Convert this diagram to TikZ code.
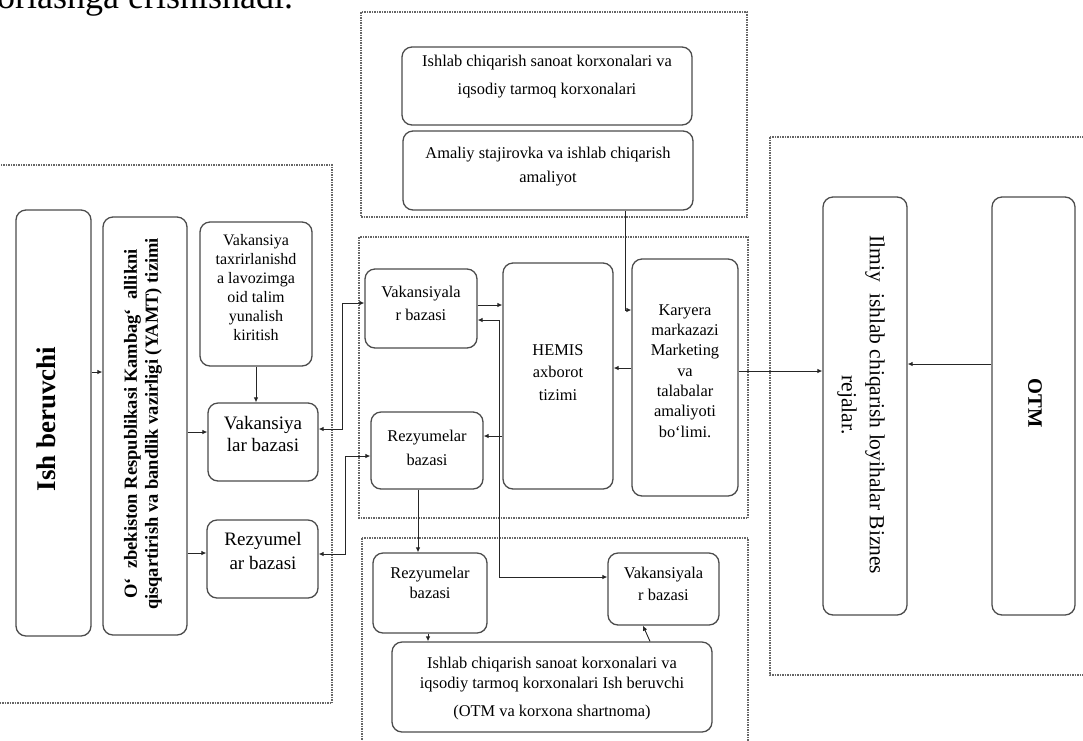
\documentclass[tikz,border=0pt]{standalone}
\usepackage{fontspec}
\setmainfont{Liberation Serif}
\usetikzlibrary{arrows.meta}
\begin{document}
\begin{tikzpicture}[x=1pt,y=-1pt,
  box/.style={draw=black!70, line width=1.3pt, rounded corners=10pt, inner sep=0pt, fill=white},
  region/.style={draw=black!60, line width=1.1pt, dash pattern=on 1.5pt off 1pt},
  txt/.style={inner sep=0pt, align=center, font=\fontsize{16.4}{20}\selectfont},
  conn/.style={line width=0.9pt, draw=black!85},
  arr/.style={conn, -{Latex[length=5pt,width=4.5pt]}},
  arrb/.style={conn, {Latex[length=5pt,width=4.5pt]}-{Latex[length=5pt,width=4.5pt]}}]
\useasboundingbox (0,0) rectangle (1083,740);
\clip (0,0) rectangle (1083,740);
\fill[white] (0,0) rectangle (1083,740);

% cut-off text line at the top
\node[anchor=base west, inner sep=0pt, font=\fontsize{36}{40}\selectfont] (toptext) at (-3,8) {oriashga erishishadi.};

% dashed regions
\draw[region] (-5,165) rectangle (332,703);
\draw[region] (361,12) rectangle (747,217);
\draw[region] (359,237) rectangle (748,518);
\draw[region] (362,538) rectangle (748,760);
\draw[region] (770,137) rectangle (1090,675);

% boxes
\node[box, minimum width=75pt, minimum height=426pt] (ish) at (53.5,423) {};
\node[box, minimum width=84pt, minimum height=418pt] (ozb) at (145,426) {};
\node[box, minimum width=112pt, minimum height=144pt] (vtax) at (256,294) {};
\node[box, minimum width=110pt, minimum height=78pt] (vlb) at (263,442) {};
\node[box, minimum width=111pt, minimum height=78pt] (rlb) at (262.5,559) {};
\node[box, minimum width=290pt, minimum height=78pt] (top1) at (547,86) {};
\node[box, minimum width=290pt, minimum height=79pt] (amal) at (548,170.5) {};
\node[box, minimum width=112pt, minimum height=79pt] (mvak) at (421,308.5) {};
\node[box, minimum width=112pt, minimum height=77pt] (mrez) at (427,450.5) {};
\node[box, minimum width=110pt, minimum height=226pt] (hemis) at (558,376) {};
\node[box, minimum width=106pt, minimum height=237pt] (kar) at (685,377.5) {};
\node[box, minimum width=114pt, minimum height=80pt] (brez) at (430,593) {};
\node[box, minimum width=111pt, minimum height=72pt] (bvak) at (663.5,589) {};
\node[box, minimum width=320pt, minimum height=90pt] (big) at (552,687) {};
\node[box, minimum width=84pt, minimum height=418pt] (ilm) at (865,406) {};
\node[box, minimum width=83pt, minimum height=418pt] (otm) at (1033.5,406) {};

% texts
\node[txt, rotate=90, font=\fontsize{27}{30}\selectfont\bfseries] (ishT) at (46,419) {Ish beruvchi};
\node[txt, rotate=90, font=\fontsize{18.5}{21}\selectfont\bfseries] (ozbT) at (143,424) {O‘\ \ zbekiston Respublikasi Kambag‘\ \ allikni\\qisqartirish va bandlik vazirligi (YAMT) tizimi};
\node[txt, font=\fontsize{16}{19}\selectfont] (vtaxT) at (256,288) {Vakansiya\\taxrirlanishd\\a lavozimga\\oid talim\\yunalish\\kiritish};
\node[txt, font=\fontsize{19}{22}\selectfont] (vlbT) at (263,434) {Vakansiya\\lar bazasi};
\node[txt, font=\fontsize{19}{24}\selectfont] (rlbT) at (263,551) {Rezyumel\\ar bazasi};
\node[txt, font=\fontsize{16.4}{28}\selectfont] (top1T) at (547,77) {Ishlab chiqarish sanoat korxonalari va\\iqsodiy tarmoq korxonalari};
\node[txt, font=\fontsize{16.4}{24}\selectfont] (amalT) at (548,167) {Amaliy stajirovka va ishlab chiqarish\\amaliyot};
\node[txt, font=\fontsize{16.4}{23}\selectfont] (mvakT) at (421,303.5) {Vakansiyala\\r bazasi};
\node[txt, font=\fontsize{16.4}{24}\selectfont] (mrezT) at (427,448) {Rezyumelar\\bazasi};
\node[txt, font=\fontsize{16.4}{22.5}\selectfont] (hemisT) at (558,372.5) {HEMIS\\axborot\\tizimi};
\node[txt, font=\fontsize{16.4}{20.3}\selectfont] (karT) at (685,371) {Karyera\\markazazi\\Marketing\\va\\talabalar\\amaliyoti\\bo‘limi.};
\node[txt, font=\fontsize{16.4}{20}\selectfont] (brezT) at (430,583) {Rezyumelar\\bazasi};
\node[txt, font=\fontsize{16.4}{22}\selectfont] (bvakT) at (663.5,584) {Vakansiyala\\r bazasi};
\node[txt, font=\fontsize{16.4}{20}\selectfont] (bigT) at (552,689) {Ishlab chiqarish sanoat korxonalari va\\iqsodiy tarmoq korxonalari Ish beruvchi\\[8pt](OTM va korxona shartnoma)};
\node[txt, rotate=-90, font=\fontsize{21.5}{28}\selectfont] (ilmT) at (861,405) {Ilmiy\ \ ishlab chiqarish loyihalar Biznes\\rejalar.};
\node[txt, rotate=-90, font=\fontsize{20.5}{24}\selectfont\bfseries] (otmT) at (1035,403) {OTM};

% helper coordinates
\coordinate (a1) at (0,372);
\coordinate (a2) at (0,432);
\coordinate (a3) at (0,553);
\coordinate (a4) at (0,429);
\coordinate (a5) at (0,554);
\coordinate (a6) at (0,305);
\coordinate (a7) at (0,577);
\coordinate (a8) at (0,436);
\coordinate (a9) at (0,368);
\coordinate (a10) at (0,371);
\coordinate (a11) at (0,364);
\coordinate (j1) at (342,303);
\coordinate (j2) at (345,456);
\coordinate (j3) at (625,310);
\coordinate (j4) at (499,320);
\coordinate (x1) at (418,0);
\coordinate (x2) at (428,0);
\coordinate (x3) at (650,0);
\coordinate (x4) at (643,0);

% connectors
\draw[arr] (ish.east |- a1) -- (ozb.west |- a1);
\draw[arr] (ozb.east |- a2) -- (vlb.west |- a2);
\draw[arr] (ozb.east |- a3) -- (rlb.west |- a3);
\draw[arr] (vtax.south) -- (vtax.south |- vlb.north);
\draw[arrb] (vlb.east |- a4) -| (j1) -- (mvak.west |- j1);
\draw[arrb] (rlb.east |- a5) -| (j2) -- (mrez.west |- j2);
\draw[arr] (amal.south -| j3) -- (j3) -- (kar.west |- j3);
\draw[arr] (mvak.east |- a6) -- (hemis.west |- a6);
\draw[arrb] (mvak.east |- j4) -- (j4) |- (bvak.west |- a7);
\draw[arr] (hemis.west |- a8) -- (mrez.east |- a8);
\draw[arr] (kar.west |- a9) -- (hemis.east |- a9);
\draw[arr] (kar.east |- a10) -- (ilm.west |- a10);
\draw[arr] (otm.west |- a11) -- (ilm.east |- a11);
\draw[arr] (mrez.south -| x1) -- (brez.north -| x1);
\draw[arr] (brez.south -| x2) -- (big.north -| x2);
\draw[arr] (big.north -| x3) -- (bvak.south -| x4);
\end{tikzpicture}
\end{document}
